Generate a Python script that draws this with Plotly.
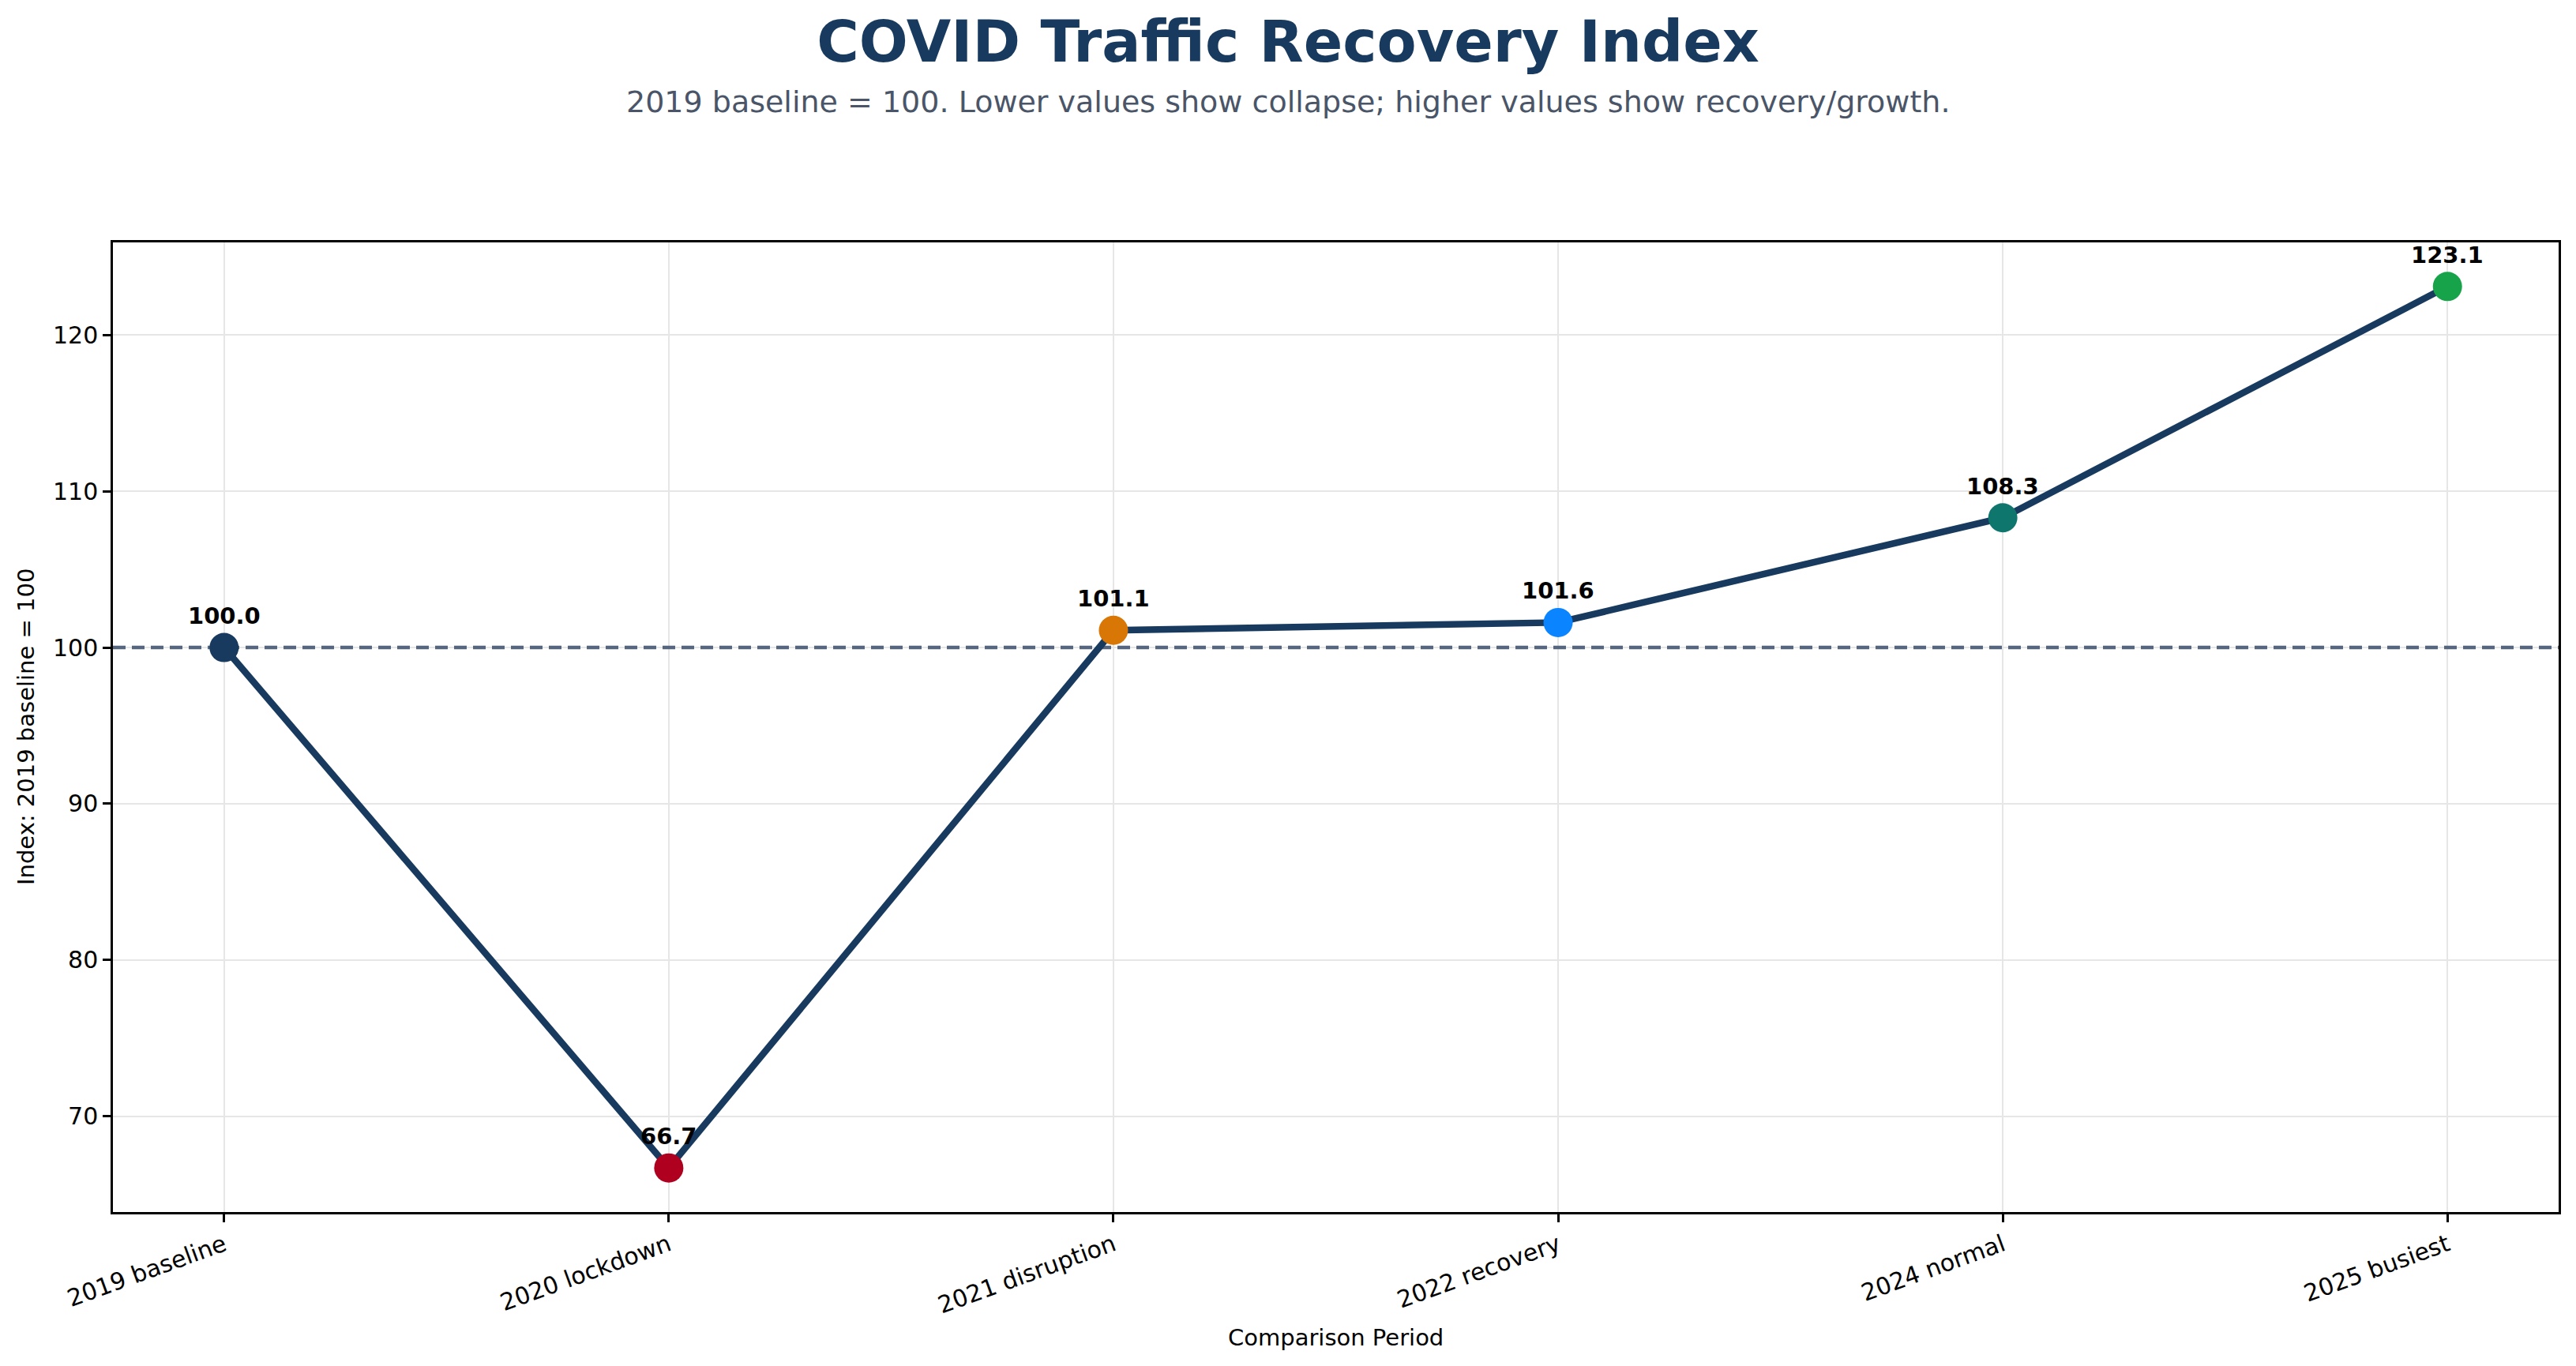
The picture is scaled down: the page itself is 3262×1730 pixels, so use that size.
import plotly.graph_objects as go

categories = ["2019 baseline", "2020 lockdown", "2021 disruption", "2022 recovery", "2024 normal", "2025 busiest"]
values = [100.0, 66.7, 101.1, 101.6, 108.3, 123.1]
marker_colors = ["#173a5e", "#b00020", "#d97706", "#0a84ff", "#0f766e", "#16a34a"]
baseline = 100
y_ticks = [70, 80, 90, 100, 110, 120]

W, H = 3262, 1730
L, R, T, B = 143, 22, 307, 195
pw, ph = W - L - R, H - T - B

FONT = "DejaVu Sans"
NAVY = "#173a5e"

fig = go.Figure()
xs = list(range(len(categories)))
x_range = [-0.25, len(categories) - 0.75]

fig.add_trace(go.Scatter(
    x=x_range, y=[baseline, baseline], mode="lines",
    line=dict(color="#56667f", width=4.5, dash="16px,8px"),
    hoverinfo="skip", showlegend=False,
))

fig.add_trace(go.Scatter(
    x=xs, y=values, mode="lines+markers",
    line=dict(color=NAVY, width=8.5),
    marker=dict(size=37, color=marker_colors, line=dict(width=0)),
    hoverinfo="skip", showlegend=False,
))

for x, v in zip(xs, values):
    fig.add_annotation(x=x, y=v, text=f"<b>{v:.1f}</b>", showarrow=False,
                       yshift=40, yanchor="middle",
                       font=dict(family=FONT, size=29, color="black"))

fig.add_annotation(xref="paper", yref="paper", x=(W / 2 - L) / pw, y=(1535 - 129) / ph,
                   xanchor="center", yanchor="middle",
                   text="2019 baseline = 100. Lower values show collapse; higher values show recovery/growth.",
                   showarrow=False, font=dict(family=FONT, size=38, color="#4a5568"))
fig.add_annotation(xref="paper", yref="paper", x=(33 - L) / pw, y=0.5,
                   xanchor="center", yanchor="middle",
                   text="Index: 2019 baseline = 100", textangle=-90, showarrow=False,
                   font=dict(family=FONT, size=29, color="black"))
fig.add_annotation(xref="paper", yref="paper", x=0.5, y=(1535 - 1694) / ph,
                   xanchor="center", yanchor="middle",
                   text="Comparison Period", showarrow=False,
                   font=dict(family=FONT, size=29, color="black"))

fig.update_layout(
    width=W, height=H,
    margin=dict(l=L, r=R, t=T, b=B),
    paper_bgcolor="white", plot_bgcolor="white",
    font=dict(family=FONT, size=30, color="black"),
    title=dict(text="<b>COVID Traffic Recovery Index</b>", x=0.5, xref="container", xanchor="center",
               y=1 - 52 / H, yanchor="middle",
               font=dict(family=FONT, size=73, color=NAVY)),
    xaxis=dict(
        range=x_range,
        tickmode="array", tickvals=xs, ticktext=categories, tickangle=-20,
        showgrid=True, gridcolor="#e6e6e6", gridwidth=2,
        showline=True, linecolor="black", linewidth=2.5, mirror=True,
        ticks="outside", ticklen=10, tickwidth=2.5, tickcolor="black",
        zeroline=False, tickfont=dict(family=FONT, size=30, color="black"),
    ),
    yaxis=dict(
        range=[63.88, 125.92],
        tickmode="array", tickvals=y_ticks,
        showgrid=True, gridcolor="#e6e6e6", gridwidth=2,
        showline=True, linecolor="black", linewidth=2.5, mirror=True,
        ticks="outside", ticklen=10, tickwidth=2.5, tickcolor="black",
        zeroline=False, tickfont=dict(family=FONT, size=30, color="black"),
    ),
)

fig.write_html("out.html")
